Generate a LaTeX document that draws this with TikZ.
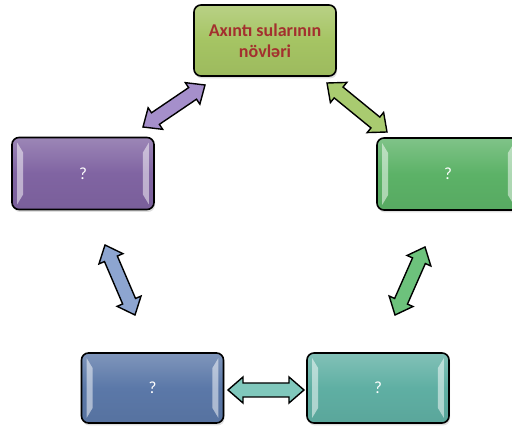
\documentclass[tikz,border=0pt]{standalone}
\usepackage{fontspec}
\setmainfont{Carlito}
\usetikzlibrary{calc,shadows}
\definecolor{cTop}{HTML}{A5C463}
\definecolor{cPur}{HTML}{8064A2}
\definecolor{cGrn}{HTML}{5CB267}
\definecolor{cBlu}{HTML}{5B78A8}
\definecolor{cTea}{HTML}{5FAFA3}
\definecolor{cTxt}{HTML}{A3302E}
\definecolor{aPur}{HTML}{A58FCB}
\definecolor{aLim}{HTML}{A9CB70}
\definecolor{aBlu}{HTML}{8DA5D0}
\definecolor{aGrn}{HTML}{6DC27C}
\definecolor{aTea}{HTML}{80C8BC}
\tikzset{
  box/.style={draw=black, line width=1.6pt, rounded corners=7pt,
    minimum width=142pt, minimum height=71pt, inner sep=2pt,
    font=\fontsize{17}{19}\selectfont, text=white, align=center,
    top color=#1!78!white, bottom color=#1!95!black, middle color=#1,
    drop shadow={opacity=0.25, shadow xshift=1pt, shadow yshift=-2.5pt}},
  bevel/.style={fill=white, fill opacity=0.5, draw=none},
  arrowshape/.style={draw=black, line width=1.4pt, line join=miter, fill=#1},
}
\newcommand\bevels[1]{%
  \fill[bevel] ($(#1.north west)+(6,6)$) -- ($(#1.north west)+(12,16)$)
    -- ($(#1.south west)+(12,-16)$) -- ($(#1.south west)+(6,-6)$) -- cycle;
  \fill[bevel] ($(#1.north east)+(-6,6)$) -- ($(#1.north east)+(-12,16)$)
    -- ($(#1.south east)+(-12,-16)$) -- ($(#1.south east)+(-6,-6)$) -- cycle;
}
\newcommand\dblarr[3]{%
  \coordinate (ha) at ($(#1)!15pt!(#2)$);
  \coordinate (hb) at ($(#2)!15pt!(#1)$);
  \draw[arrowshape=#3] (#1) -- ($(ha)!13pt!90:(#2)$) -- ($(ha)!7pt!90:(#2)$)
    -- ($(hb)!7pt!-90:(#1)$) -- ($(hb)!13pt!-90:(#1)$) -- (#2)
    -- ($(hb)!13pt!90:(#1)$) -- ($(hb)!7pt!90:(#1)$)
    -- ($(ha)!7pt!-90:(#2)$) -- ($(ha)!13pt!-90:(#2)$) -- cycle;
}
\begin{document}
\begin{tikzpicture}[x=1pt,y=-1pt]
\useasboundingbox (0,0) rectangle (512,430);
\node[box=cTop, text=cTxt, font=\fontsize{18}{21}\selectfont\bfseries] (top) at (265,40.5) {Axıntı sularının\\növləri};
\node[box=cPur, minimum height=72pt] (left) at (83,173.5) {?};
\node[box=cGrn, minimum height=72pt] (right) at (448,174) {?};
\node[box=cBlu, minimum height=70pt] (bl) at (152.5,388) {?};
\node[box=cTea, minimum height=70pt] (br) at (378,388) {?};
\bevels{left}\bevels{right}\bevels{bl}\bevels{br}
\coordinate (p1) at (143,127); \coordinate (p2) at (205,85);
\coordinate (g1) at (327,83);  \coordinate (g2) at (387,132);
\coordinate (b1) at (105,245); \coordinate (b2) at (135,315);
\coordinate (r1) at (425,247); \coordinate (r2) at (395,315);
\coordinate (t1) at (228,390); \coordinate (t2) at (304,390);
\dblarr{p1}{p2}{aPur}
\dblarr{g1}{g2}{aLim}
\dblarr{b1}{b2}{aBlu}
\dblarr{r1}{r2}{aGrn}
\dblarr{t1}{t2}{aTea}
\end{tikzpicture}
\end{document}
